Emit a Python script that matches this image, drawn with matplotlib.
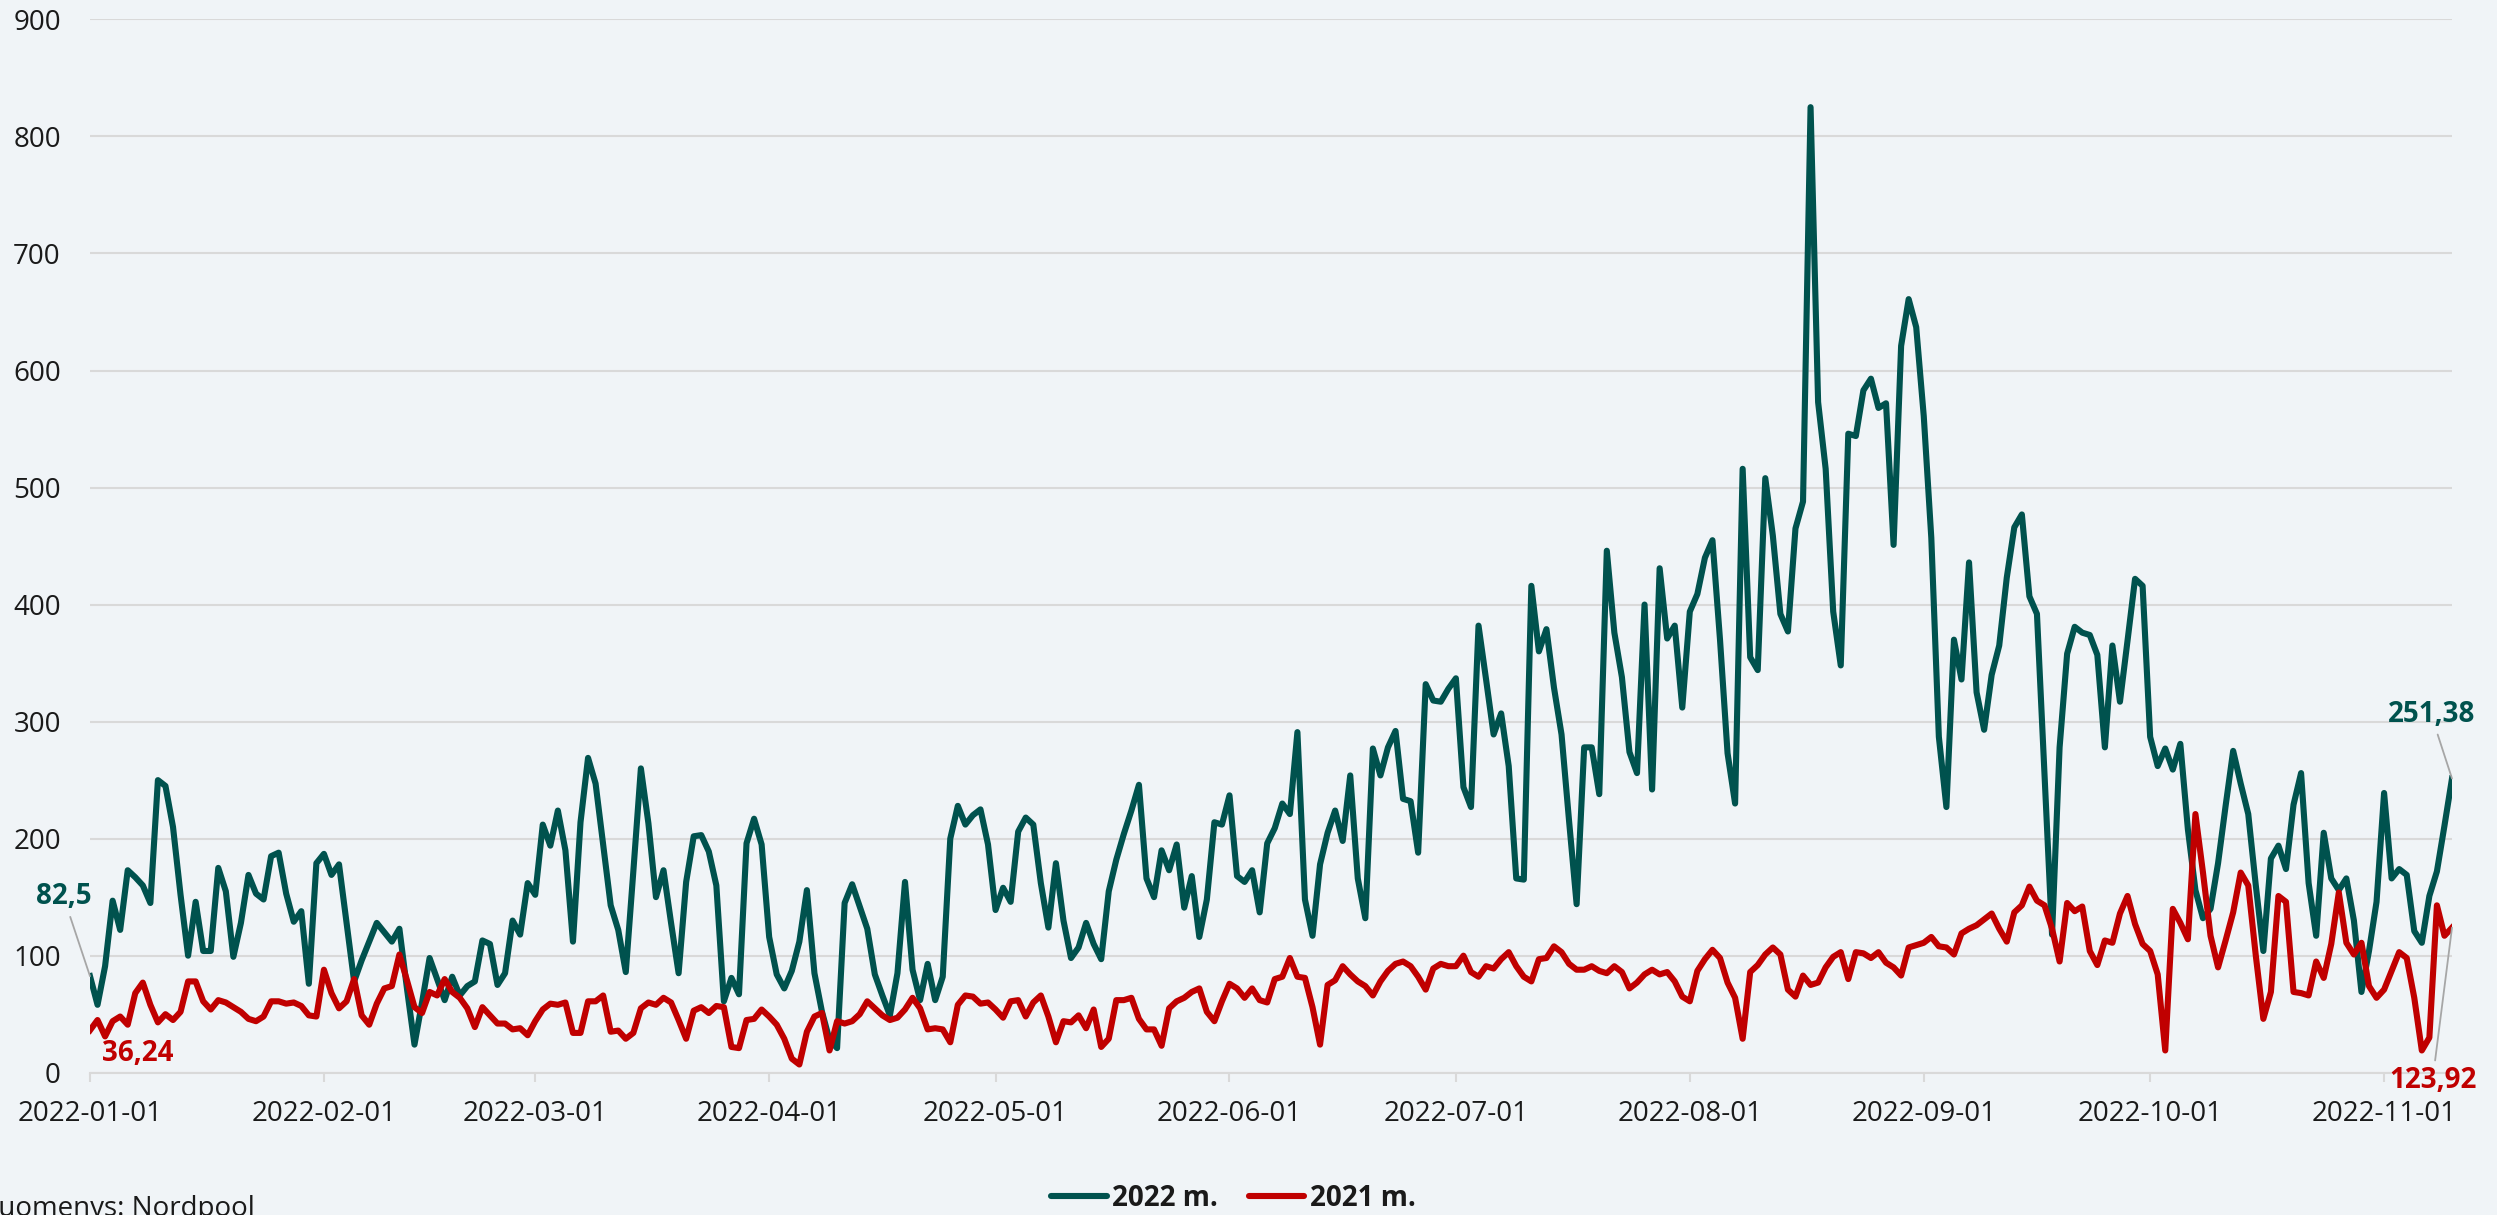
import numpy as np
import pandas as pd
import matplotlib
matplotlib.use('Agg')
import matplotlib.pyplot as plt
import matplotlib.dates as mdates

# daily prices, EUR/MWh, from 2022-01-01
start_date = '2022-01-01'
price_2022 = [82.5, 58, 91, 147, 122, 173, 167, 160, 145, 250,
              245, 210, 152, 100, 146, 104, 104, 175, 155, 99,
              128, 169, 153, 148, 185, 188, 153, 129, 138, 76,
              179, 187, 169, 178, 128, 78, 96, 112, 128, 120,
              112, 123, 72, 24, 60, 98, 80, 62, 82, 66,
              74, 78, 113, 110, 75, 85, 130, 118, 162, 152,
              212, 194, 224, 190, 112, 214, 269, 247, 195, 143,
              122, 86, 172, 260, 213, 150, 173, 128, 85, 163,
              202, 203, 189, 160, 61, 81, 67, 196, 217, 195,
              116, 84, 72, 87, 112, 156, 85, 52, 28, 21,
              145, 161, 142, 123, 84, 66, 49, 85, 163, 88,
              62, 93, 62, 82, 200, 228, 212, 220, 225, 195,
              139, 158, 146, 206, 218, 212, 162, 124, 179, 130,
              98, 107, 128, 110, 97, 155, 182, 204, 224, 246,
              166, 150, 190, 173, 195, 141, 168, 116, 148, 214,
              212, 237, 168, 163, 173, 137, 196, 209, 230, 221,
              291, 148, 117, 178, 205, 224, 198, 254, 166, 132,
              277, 254, 278, 292, 234, 232, 188, 332, 318, 317,
              328, 337, 244, 227, 382, 336, 289, 307, 262, 166,
              165, 416, 360, 379, 329, 289, 215, 144, 278, 278,
              238, 446, 376, 338, 274, 256, 400, 242, 431, 371,
              382, 312, 394, 409, 440, 455, 370, 273, 230, 516,
              355, 344, 508, 459, 392, 377, 465, 488, 825, 573,
              516, 394, 348, 546, 544, 583, 593, 568, 572, 451,
              621, 661, 637, 561, 457, 287, 227, 370, 336, 436,
              325, 293, 340, 365, 423, 466, 477, 407, 392, 255,
              118, 278, 358, 381, 376, 374, 357, 278, 365, 317,
              369, 422, 416, 287, 262, 277, 259, 281, 208, 156,
              132, 140, 179, 228, 275, 247, 221, 160, 104, 183,
              194, 174, 229, 256, 162, 117, 205, 166, 156, 166,
              130, 69, 104, 146, 239, 166, 174, 169, 121, 111,
              151, 172, 211, 251.38]

price_2021 = [36.24, 45, 31, 44, 48, 41, 68, 77, 58, 43,
              50, 45, 52, 78, 78, 61, 54, 62, 60, 56,
              52, 46, 44, 48, 61, 61, 59, 60, 57, 49,
              48, 88, 68, 55, 61, 80, 49, 41, 59, 72,
              74, 101, 79, 56, 51, 69, 66, 80, 69, 64,
              55, 39, 56, 49, 42, 42, 37, 38, 32, 44,
              54, 59, 58, 60, 34, 34, 61, 61, 66, 35,
              36, 29, 34, 55, 60, 58, 64, 60, 45, 29,
              53, 56, 51, 57, 56, 22, 21, 45, 46, 54,
              48, 41, 29, 12, 7, 35, 48, 51, 19, 44,
              42, 44, 50, 61, 55, 49, 45, 47, 54, 64,
              55, 37, 38, 37, 26, 58, 66, 65, 59, 60,
              54, 47, 61, 62, 48, 60, 66, 48, 26, 44,
              43, 49, 38, 54, 22, 29, 62, 62, 64, 46,
              37, 37, 23, 55, 61, 64, 69, 72, 52, 44,
              61, 76, 72, 64, 72, 62, 60, 80, 82, 98,
              82, 81, 56, 24, 75, 79, 91, 84, 78, 74,
              66, 78, 87, 93, 95, 91, 82, 71, 89, 93,
              91, 91, 100, 86, 82, 91, 89, 97, 103, 91,
              82, 78, 97, 98, 108, 103, 93, 88, 88, 91,
              87, 85, 91, 86, 72, 77, 84, 88, 84, 86,
              78, 65, 61, 87, 97, 105, 98, 77, 64, 29,
              86, 92, 101, 107, 101, 71, 65, 83, 75, 77,
              90, 99, 103, 80, 103, 102, 98, 103, 94, 90,
              83, 107, 109, 111, 116, 108, 107, 101, 119, 123,
              126, 131, 136, 123, 112, 137, 143, 159, 147, 143,
              123, 95, 145, 138, 142, 104, 92, 113, 111, 136,
              151, 127, 110, 104, 84, 19, 140, 128, 114, 221,
              171, 117, 90, 113, 137, 171, 160, 100, 46, 69,
              151, 146, 69, 68, 66, 95, 81, 110, 154, 111,
              101, 111, 74, 64, 71, 87, 103, 98, 64, 19,
              30, 143, 117, 123.92]

series_names = ['2022 m.', '2021 m.']
y_ticks = [0, 100, 200, 300, 400, 500, 600, 700, 800, 900]
source = 'Duomenys: Nordpool'

green = '#00524E'
red = '#C00000'
bg = '#F0F4F7'
grid = '#D9D9D9'

plt.rcParams['font.family'] = ['Open Sans', 'DejaVu Sans']

dates = pd.date_range(start_date, periods=len(price_2022), freq='D')

fig = plt.figure(figsize=(24.97, 12.15), dpi=100, facecolor=bg)
ax = fig.add_axes([0.03604, 0.11712, 0.94594, 0.86691])
ax.set_facecolor(bg)

ax.plot(dates, price_2022, color=green, lw=4.4, solid_joinstyle='round', label=series_names[0], zorder=3)
ax.plot(dates, price_2021, color=red, lw=4.4, solid_joinstyle='round', label=series_names[1], zorder=3)

ax.set_xlim(dates[0], dates[-1])
ax.set_ylim(0, 900)
ax.set_yticks(y_ticks)
ax.yaxis.grid(True, color=grid, lw=1.5)
ax.set_axisbelow(True)
for s in ['top', 'right', 'left']:
    ax.spines[s].set_visible(False)
ax.spines['bottom'].set_color(grid)
ax.spines['bottom'].set_linewidth(1.5)

ax.xaxis.set_major_locator(mdates.MonthLocator())
ax.xaxis.set_major_formatter(mdates.DateFormatter('%Y-%m-%d'))
ax.tick_params(axis='x', length=6.5, width=1.5, color=grid, pad=13, labelsize=20, labelcolor='#1a1a1a')
ax.tick_params(axis='y', length=0, pad=21, labelsize=20, labelcolor='#1a1a1a')

# value labels at both ends
lead = dict(arrowstyle='-', color='#A6A6A6', lw=1.3, shrinkA=2, shrinkB=0)
ax.annotate('82,5', xy=(dates[0], price_2022[0]), xytext=(-19, 57), textcoords='offset points',
            ha='center', va='center', fontsize=20, fontweight='bold', color=green,
            arrowprops=lead, annotation_clip=False)
ax.annotate('36,24', xy=(dates[0], price_2021[0]), xytext=(34, -17), textcoords='offset points',
            ha='center', va='center', fontsize=20, fontweight='bold', color=red, annotation_clip=False)
ax.annotate('251,38', xy=(dates[-1], price_2022[-1]), xytext=(-15, 46), textcoords='offset points',
            ha='center', va='center', fontsize=20, fontweight='bold', color=green,
            arrowprops=lead, annotation_clip=False)
ax.annotate('123,92', xy=(dates[-1], price_2021[-1]), xytext=(-14, -110), textcoords='offset points',
            ha='center', va='center', fontsize=20, fontweight='bold', color=red,
            arrowprops=lead, annotation_clip=False)

leg = fig.legend(loc='center', bbox_to_anchor=(0.494, 0.0135), ncol=2, frameon=False,
                 handlelength=2.0, handletextpad=0.2, columnspacing=1.1,
                 prop={'size': 20, 'weight': 'bold'})
for h in leg.get_lines():
    h.set_linewidth(4.4)
    h.set_solid_capstyle('round')
for t in leg.get_texts():
    t.set_color('#1a1a1a')

fig.text(-22 / 2497, -0.0008, source, ha='left', va='baseline', fontsize=20, color='#1a1a1a')

plt.savefig('out.png', dpi=100, facecolor=bg)
